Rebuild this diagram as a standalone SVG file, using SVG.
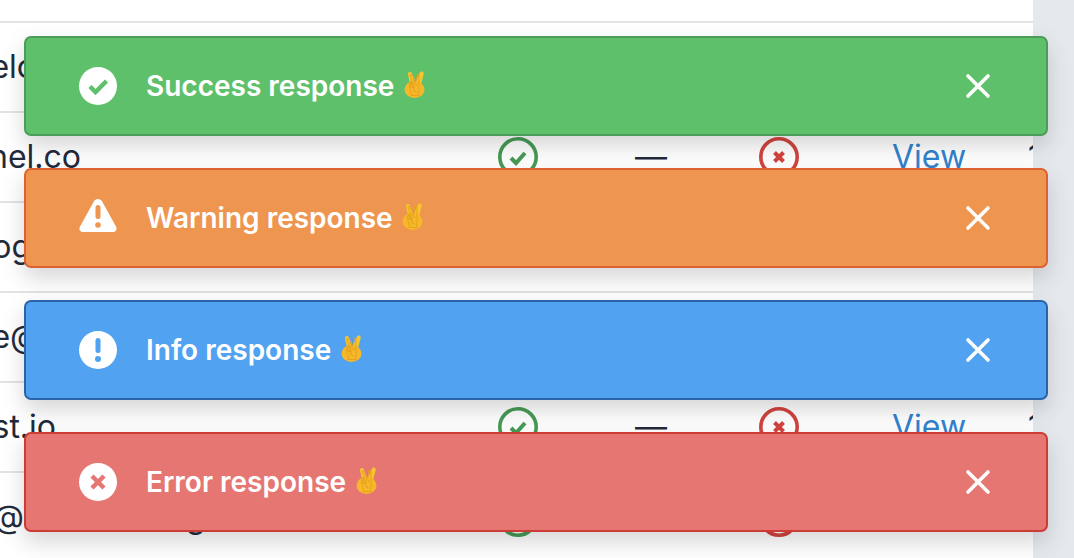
<svg xmlns="http://www.w3.org/2000/svg" width="1074" height="558" viewBox="0 0 1074 558">
<style>
.cell{font-family:Inter,"Noto Sans",sans-serif;font-size:32px;fill:#1f2a3c}
.link{fill:#3182ce}
.row{stroke:#e2e2e7;stroke-width:2}
.toast{stroke-width:2}
.msg{font-family:Inter,"Noto Sans",sans-serif;font-size:28px;font-weight:600;fill:#fff}
.emoji{font-family:"DejaVu Sans",sans-serif;fill:#e6a01c;font-size:30px;text-anchor:middle}
.ic{fill:#fff}
.close{stroke:#fff;stroke-width:3.6;stroke-linecap:round;fill:none}
.ring{fill:none;stroke-width:3.6}
</style>
<defs>
<filter id="sh" x="-5%" y="-30%" width="110%" height="180%">
<feDropShadow dx="0" dy="10" stdDeviation="11" flood-color="#000" flood-opacity="0.16"/>
</filter>
<g id="hand">
<path d="M7 17L4 3.500a2 2 0 0 1 4-.8L11 13l5-11.500a2 2 0 0 1 3.700 1.400L16 17z" fill="#f8c52e"/>
<ellipse cx="10.500" cy="18.500" rx="10" ry="8.500" fill="#f6b829"/>
</g>
</defs>
<rect width="1074" height="558" fill="#fff"/>
<g id="table">
<line class="row" x1="0" x2="1033" y1="22" y2="22"/>
<line class="row" x1="0" x2="1033" y1="112" y2="112"/>
<line class="row" x1="0" x2="1033" y1="202" y2="202"/>
<line class="row" x1="0" x2="1033" y1="292" y2="292"/>
<line class="row" x1="0" x2="1033" y1="382" y2="382"/>
<line class="row" x1="0" x2="1033" y1="472" y2="472"/>
<text class="cell" x="36" y="78" text-anchor="end">elo</text>
<text class="cell" x="81" y="168" text-anchor="end">nel.co</text>
<text class="cell" x="31" y="258" text-anchor="end">og</text>
<text class="cell" x="41" y="348" text-anchor="end">e@</text>
<text class="cell" x="56" y="438" text-anchor="end">st.io</text>
<text class="cell" x="24" y="528" text-anchor="end">@</text>
<text class="cell" x="186" y="528">g</text>
<g id="row2-status">
<circle class="ring" cx="518" cy="157" r="18.200" stroke="#469b55"/>
<path d="M511 158l5 5 9-10" fill="none" stroke="#469b55" stroke-width="4"/>
<text class="cell" x="635" y="168">—</text>
<circle class="ring" cx="779" cy="157" r="18.200" stroke="#d2443f"/>
<path d="M774.500 152.500l9 9m0-9l-9 9" fill="none" stroke="#d2443f" stroke-width="4"/>
<text class="cell link" x="892" y="168">View</text>
<text class="cell" x="1028" y="168">1</text>
</g>
<g id="row5-status">
<circle class="ring" cx="518" cy="427" r="18.200" stroke="#469b55"/>
<path d="M511 428l5 5 9-10" fill="none" stroke="#469b55" stroke-width="4"/>
<text class="cell" x="635" y="438">—</text>
<circle class="ring" cx="779" cy="427" r="18.200" stroke="#d2443f"/>
<path d="M774.500 422.500l9 9m0-9l-9 9" fill="none" stroke="#d2443f" stroke-width="4"/>
<text class="cell link" x="892" y="438">View</text>
<text class="cell" x="1028" y="438">1</text>
</g>
<g id="row6-status">
<circle class="ring" cx="518" cy="517" r="18.200" stroke="#469b55"/>
<circle class="ring" cx="779" cy="517" r="18.200" stroke="#d2443f"/>
</g>
</g>
<rect id="page-side" x="1033" y="0" width="41" height="558" fill="#e5e9ee"/>
<g id="toast-success">
<rect class="toast" x="25" y="37" width="1022" height="98" rx="6" fill="#5ec06c" stroke="#4b9c58" filter="url(#sh)"/>
<circle class="ic" cx="98" cy="86" r="19"/>
<path d="M90 86.500l5.500 5.500 11-11" fill="none" stroke="#5ec06c" stroke-width="4.500"/>
<text class="msg" x="146" y="96">Success response</text>
<use href="#hand" x="404" y="71"/>
<text class="emoji" x="415" y="96">✌</text>
<path class="close" d="M968 76l20 20m0-20l-20 20"/>
</g>
<g id="toast-warning">
<rect class="toast" x="25" y="169" width="1022" height="98" rx="6" fill="#ee9550" stroke="#dc6230" filter="url(#sh)"/>
<path class="ic" d="M98 199c1.800 0 3.300 1 4.300 2.700l13.800 25c1.400 2.600-.2 5.300-3 5.300h-30.200c-2.800 0-4.400-2.700-3-5.300l13.800-25c1-1.700 2.500-2.700 4.300-2.700z"/>
<rect x="95.500" y="205" width="5" height="14" rx="2.500" fill="#ee9550"/>
<circle cx="98" cy="225" r="2.800" fill="#ee9550"/>
<text class="msg" x="146" y="228">Warning response</text>
<use href="#hand" x="402" y="203"/>
<text class="emoji" x="413" y="228">✌</text>
<path class="close" d="M968 208l20 20m0-20l-20 20"/>
</g>
<g id="toast-info">
<rect class="toast" x="25" y="301" width="1022" height="98" rx="6" fill="#51a2f0" stroke="#2b64a8" filter="url(#sh)"/>
<circle class="ic" cx="98" cy="350" r="19"/>
<rect x="95.500" y="338" width="5" height="15" rx="2.500" fill="#51a2f0"/>
<circle cx="98" cy="359" r="3" fill="#51a2f0"/>
<text class="msg" x="146" y="360">Info response</text>
<use href="#hand" x="341" y="335"/>
<text class="emoji" x="352" y="360">✌</text>
<path class="close" d="M968 340l20 20m0-20l-20 20"/>
</g>
<g id="toast-error">
<rect class="toast" x="25" y="433" width="1022" height="98" rx="6" fill="#e67672" stroke="#cc3a36" filter="url(#sh)"/>
<circle class="ic" cx="98" cy="482" r="19"/>
<path d="M92 476l12 12m0-12l-12 12" fill="none" stroke="#e67672" stroke-width="4.500"/>
<text class="msg" x="146" y="492">Error response</text>
<use href="#hand" x="356" y="467"/>
<text class="emoji" x="367" y="492">✌</text>
<path class="close" d="M968 472l20 20m0-20l-20 20"/>
</g>
</svg>
